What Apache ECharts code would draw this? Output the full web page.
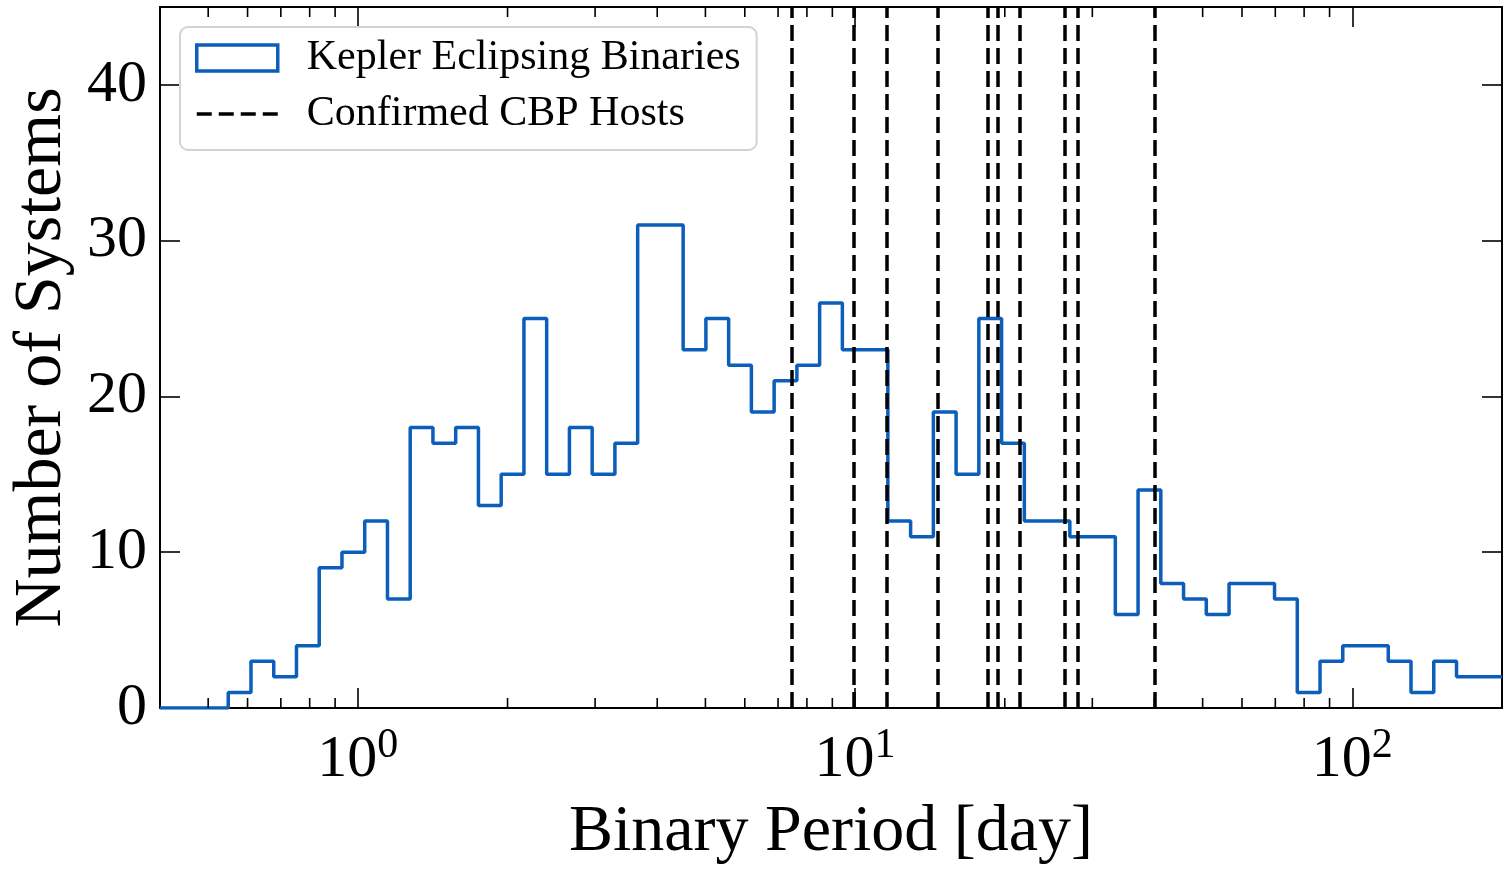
<!DOCTYPE html>
<html>
<head>
<meta charset="utf-8">
<script src="https://cdn.jsdelivr.net/npm/echarts@6/dist/echarts.min.js"></script>
<style>
html,body{margin:0;padding:0;background:#fff;}
#chart{width:1512px;height:872px;}
</style>
</head>
<body>
<div id="chart"></div>
<script>
// ---- data ----
const periodMin = 0.4;   // histogram / axis range [day]
const periodMax = 200;
const ebCounts = [0, 0, 0, 1, 3, 2, 4, 9, 10, 12, 7, 18, 17, 18, 13, 15, 25, 15, 18, 15,
  17, 31, 31, 23, 25, 22, 19, 21, 22, 26, 23, 23, 12, 11, 19, 15, 25, 17, 12, 12,
  11, 11, 6, 14, 8, 7, 6, 8, 8, 7, 1, 3, 4, 4, 3, 1, 3, 2, 2];
const cbpHostPeriods = [7.47, 9.95, 11.6, 14.65, 18.45, 19.4, 21.4, 26.4, 28.1, 40.0];
const minorTickValues = [0.5, 0.6, 0.7, 0.8, 0.9, 2, 3, 4, 5, 6, 7, 8, 9, 20, 30, 40, 50, 60, 70, 80, 90];
const yTicks = [0, 10, 20, 30, 40];
const seriesNames = ['Kepler Eclipsing Binaries', 'Confirmed CBP Hosts'];
const xTitle = 'Binary Period [day]';
const yTitle = 'Number of Systems';

// log-spaced bin edges (np.logspace style) spanning the range
const nBins = ebCounts.length;
const binEdges = [];
for (let i = 0; i <= nBins; i++) {
  binEdges.push(periodMin * Math.pow(periodMax / periodMin, i / nBins));
}
const stepData = ebCounts.map((c, i) => [binEdges[i], c]);
stepData.push([binEdges[nBins], ebCounts[nBins - 1]]);

const BLUE = '#0b5eb9';
const FONT = 'Liberation Serif';
// dashed-line legend glyph (81 x 26 box, four dashes); tiny corner specks fix the bounding box
const DASH_ICON = 'path://M0,0h0.01v0.01h-0.01z M80.99,25.99h0.01v0.01h-0.01z ' +
  'M0,11.3h15v3.4h-15z M22,11.3h15v3.4h-15z M44,11.3h15v3.4h-15z M66,11.3h15v3.4h-15z';

const chart = echarts.init(document.getElementById('chart'), null, {renderer: 'canvas'});

const xAxisCommon = {
  type: 'log',
  logBase: 10,
  min: periodMin,
  max: periodMax,
  splitLine: {show: false},
  axisLine: {show: true, onZero: false, lineStyle: {color: '#000', width: 2}},
  axisTick: {show: true, inside: true, length: 20, lineStyle: {color: '#000', width: 1.6}},
  minorTick: {show: false}
};
const yAxisCommon = {
  type: 'value',
  min: 0,
  max: 45,
  interval: 10,
  splitLine: {show: false},
  axisLine: {show: true, onZero: false, lineStyle: {color: '#000', width: 2}},
  axisTick: {show: true, inside: true, length: 20, lineStyle: {color: '#000', width: 1.6}}
};

const option = {
  animation: false,
  backgroundColor: '#fff',
  textStyle: {fontFamily: FONT},
  grid: {left: 160, right: 10, top: 7, bottom: 164, containLabel: false},
  legend: {
    orient: 'vertical',
    left: 180,
    top: 27,
    padding: [8, 16, 13, 15],
    itemGap: 10,
    itemWidth: 81,
    itemHeight: 26,
    backgroundColor: 'rgba(255,255,255,0.9)',
    borderColor: '#d3d3d3',
    borderWidth: 2,
    borderRadius: 8,
    selectedMode: false,
    textStyle: {fontFamily: FONT, fontSize: 42, color: '#000', lineHeight: 46, padding: [0, 0, 0, 24]},
    data: [
      {name: seriesNames[0], icon: 'rect', itemStyle: {color: '#fff', borderColor: BLUE, borderWidth: 3.5}},
      {name: seriesNames[1], icon: DASH_ICON, itemStyle: {color: '#000', borderWidth: 0}}
    ]
  },
  xAxis: [
    Object.assign({}, xAxisCommon, {
      position: 'bottom',
      name: xTitle,
      nameLocation: 'middle',
      nameGap: 92,
      nameTextStyle: {fontFamily: FONT, fontSize: 66, color: '#000'},
      axisLabel: {
        show: true,
        margin: 17,
        showMinLabel: false,
        showMaxLabel: false,
        formatter: function (v) {
          const e = Math.round(Math.log10(v));
          return '{b|10}{s|' + e + '}';
        },
        rich: {
          b: {fontFamily: FONT, fontSize: 60, lineHeight: 70, color: '#000', verticalAlign: 'middle'},
          s: {fontFamily: FONT, fontSize: 42, lineHeight: 42, color: '#000', verticalAlign: 'top'}
        }
      }
    }),
    Object.assign({}, xAxisCommon, {position: 'top', axisLabel: {show: false}})
  ],
  yAxis: [
    Object.assign({}, yAxisCommon, {
      position: 'left',
      name: yTitle,
      nameLocation: 'middle',
      nameRotate: 90,
      nameGap: 74,
      nameTextStyle: {fontFamily: FONT, fontSize: 68, color: '#000'},
      axisLabel: {show: true, margin: 13, showMaxLabel: false, fontFamily: FONT, fontSize: 60, color: '#000',
        formatter: function (v) { return yTicks.indexOf(v) >= 0 ? String(v) : ''; }}
    }),
    Object.assign({}, yAxisCommon, {position: 'right', axisLabel: {show: false}})
  ],
  series: [
    {
      name: seriesNames[0],
      type: 'line',
      xAxisIndex: 0,
      yAxisIndex: 0,
      step: 'end',
      data: stepData,
      symbol: 'none',
      showSymbol: false,
      lineStyle: {color: BLUE, width: 3.5},
      itemStyle: {color: BLUE},
      z: 3,
      silent: true
    },
    {
      name: seriesNames[1],
      type: 'line',
      xAxisIndex: 0,
      yAxisIndex: 0,
      data: [],
      symbol: 'none',
      showSymbol: false,
      lineStyle: {color: '#000', width: 3.5, type: [16, 7]},
      itemStyle: {color: '#000'},
      z: 4,
      silent: true,
      markLine: {
        silent: true,
        symbol: ['none', 'none'],
        label: {show: false},
        lineStyle: {color: '#000', width: 3.5, type: [16, 7]},
        emphasis: {disabled: true},
        animation: false,
        data: cbpHostPeriods.map(p => ({xAxis: p}))
      }
    },
    {
      name: 'minor-ticks',
      type: 'custom',
      xAxisIndex: 0,
      yAxisIndex: 0,
      silent: true,
      clip: false,
      z: 5,
      data: minorTickValues.map(v => [v, 0]),
      renderItem: function (params, api) {
        const x = api.coord([api.value(0), 0])[0];
        const cs = params.coordSys;
        const st = {stroke: '#000', lineWidth: 1.6};
        return {
          type: 'group',
          children: [
            {type: 'line', shape: {x1: x, y1: cs.y + cs.height, x2: x, y2: cs.y + cs.height - 10}, style: st},
            {type: 'line', shape: {x1: x, y1: cs.y, x2: x, y2: cs.y + 10}, style: st}
          ]
        };
      }
    }
  ]
};
chart.setOption(option);
</script>
</body>
</html>
